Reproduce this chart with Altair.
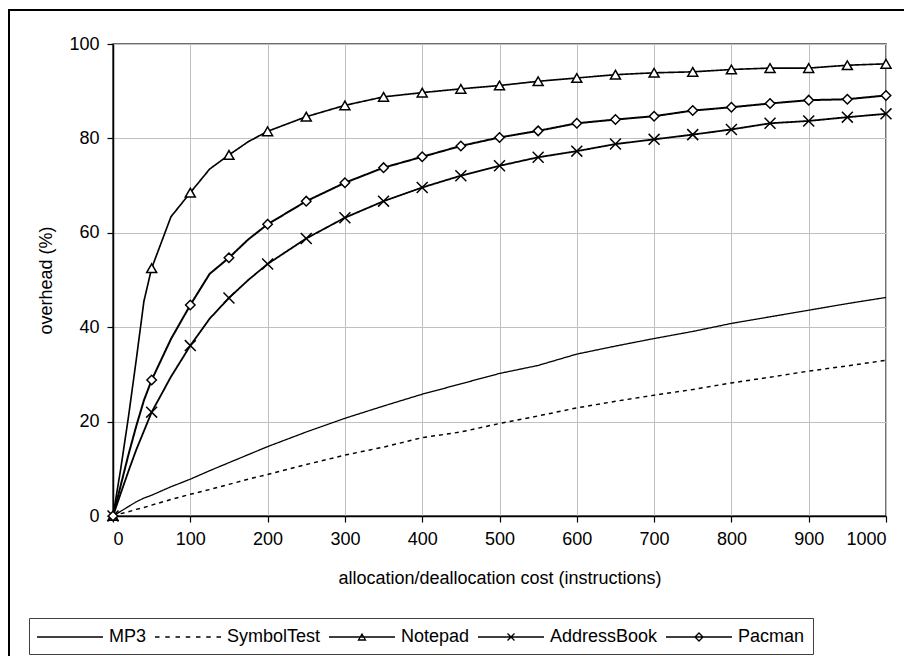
import altair as alt
import pandas as pd

# ---- data ----
cost = [0, 10, 20, 30, 40, 50, 75, 100, 125, 150, 175, 200, 250, 300, 350, 400,
        450, 500, 550, 600, 650, 700, 750, 800, 850, 900, 950, 1000]
mp3 = [0, 1.0, 2.0, 3.0, 3.8, 4.4, 6.2, 7.8, 9.6, 11.3, 13.0, 14.7, 17.8, 20.7,
       23.3, 25.8, 28.0, 30.2, 31.9, 34.3, 36.0, 37.6, 39.1, 40.8, 42.2, 43.6, 45.0, 46.3]
symboltest = [0, 0.5, 0.9, 1.4, 1.8, 2.3, 3.5, 4.6, 5.6, 6.7, 7.8, 8.8, 10.9, 12.9,
              14.6, 16.6, 17.8, 19.6, 21.2, 22.9, 24.3, 25.6, 26.8, 28.2, 29.4, 30.7, 31.8, 33.0]
notepad = [0, 10, 21, 33, 45.5, 52.5, 63.4, 68.5, 73.5, 76.5, 79.3, 81.5, 84.6, 87.0,
           88.8, 89.7, 90.5, 91.2, 92.1, 92.8, 93.5, 93.9, 94.1, 94.6, 94.9, 94.9, 95.5, 95.8]
addressbook = [0, 4.8, 9.5, 14.0, 18.0, 22.0, 29.5, 36.1, 41.8, 46.2, 50.0, 53.4, 58.8,
               63.2, 66.7, 69.6, 72.1, 74.2, 76.0, 77.3, 78.8, 79.8, 80.8, 81.9, 83.2, 83.7, 84.5, 85.2]
pacman = [0, 6.5, 13.0, 19.0, 24.5, 28.8, 37.5, 44.7, 51.3, 54.7, 58.6, 61.8, 66.7, 70.6,
          73.8, 76.1, 78.4, 80.2, 81.6, 83.2, 84.0, 84.7, 85.9, 86.6, 87.4, 88.1, 88.3, 89.1]
series_names = ["MP3", "SymbolTest", "Notepad", "AddressBook", "Pacman"]
x_ticks = [0, 100, 200, 300, 400, 500, 600, 700, 800, 900, 1000]
y_ticks = [0, 20, 40, 60, 80, 100]

rows = []
for name, vals in zip(series_names, [mp3, symboltest, notepad, addressbook, pacman]):
    for c, v in zip(cost, vals):
        rows.append({"series": name, "cost": c, "overhead": v})
df = pd.DataFrame(rows)

FONT = "Liberation Sans"
xscale = alt.Scale(domain=[0, 1000], nice=False, zero=False)
yscale = alt.Scale(domain=[0, 100], nice=False)

base = alt.Chart(df)

lines = base.mark_line(color="black").encode(
    x=alt.X("cost:Q", scale=xscale,
            title="allocation/deallocation cost (instructions)",
            axis=alt.Axis(values=x_ticks, format="d", labelPadding=8, titleY=62,
                          titleBaseline="middle")),
    y=alt.Y("overhead:Q", scale=yscale, title="overhead (%)",
            axis=alt.Axis(values=y_ticks, format="d", labelPadding=8, titleX=-67, titleY=236,
                          titleAngle=270, titleBaseline="middle")),
    detail="series:N",
    order="cost:Q",
    strokeDash=alt.StrokeDash("series:N", legend=None,
                              scale=alt.Scale(domain=series_names,
                                              range=[[1, 0], [4, 4], [1, 0], [1, 0], [1, 0]])),
    strokeWidth=alt.StrokeWidth("series:N", legend=None,
                                scale=alt.Scale(domain=series_names,
                                                range=[1.3, 2.0, 1.3, 1.3, 1.3])),
)

X_PATH = "M-1,-1L1,1M-1,1L1,-1"
marker_specs = [("Notepad", "triangle-up", 100),
                ("AddressBook", X_PATH, 120),
                ("Pacman", "diamond", 90)]
point_layers = []
for name, shp, sz in marker_specs:
    point_layers.append(
        base.transform_filter(
            (alt.datum.series == name) & ((alt.datum.cost % 50) == 0)
        ).mark_point(shape=shp, size=sz, filled=True, fill="white", stroke="black",
                     strokeWidth=1.5, opacity=1).encode(
            x=alt.X("cost:Q", scale=xscale),
            y=alt.Y("overhead:Q", scale=yscale),
        )
    )

# legend symbols: line with marker (unit = 10 px)
def dashes(n=7, start=-3.3, end=3.3):
    total = end - start
    d = 0.45
    g = (total - n * d) / (n - 1)
    parts = []
    x = start
    for _ in range(n):
        parts.append(f"M{x:.3f},0L{x + d:.3f},0")
        x += d + g
    return "".join(parts)

legend_paths = [
    "M-3.3,0L3.3,0",
    dashes(),
    "M-3.3,0L3.3,0M0,-0.3L0.35,0.3L-0.35,0.3Z",
    "M-3.3,0L3.3,0M-0.35,-0.35L0.35,0.35M-0.35,0.35L0.35,-0.35",
    "M-3.3,0L3.3,0M-0.4,0L0,-0.4L0.4,0L0,0.4Z",
]

legend_layer = alt.Chart(pd.DataFrame({"entry": series_names})).transform_filter(
    "false"
).mark_point(filled=False, color="black").encode(
    shape=alt.Shape(
        "entry:N",
        scale=alt.Scale(domain=series_names, range=legend_paths),
        legend=alt.Legend(
            title=None, orient="none", legendX=-84, legendY=574,
            direction="horizontal", columns=5,
            symbolSize=400, symbolOffset=22, labelOffset=28,
            symbolStrokeColor="black", symbolStrokeWidth=1.3,
            symbolFillColor="white", symbolOpacity=1,
            labelFont=FONT, labelFontSize=18, labelColor="black", labelLimit=0,
            strokeColor="#404040", fillColor="white", padding=8,
            columnPadding=5,
        ),
    )
)

frame = alt.Chart(pd.DataFrame({"f": [0]})).mark_rect(
    filled=False, stroke="black", strokeWidth=2
).encode(
    x=alt.value(-104), x2=alt.value(830), y=alt.value(-34), y2=alt.value(660)
)

chart = alt.layer(frame, lines, *point_layers, legend_layer).resolve_scale(
    shape="independent"
).properties(
    width=773, height=472, autosize="none",
    padding={"left": 105, "top": 36, "right": 18, "bottom": 140},
    background="white",
).configure_axis(
    labelFont=FONT, labelFontSize=18, labelColor="black",
    titleFont=FONT, titleFontSize=18, titleFontWeight="normal", titleColor="black",
    gridColor="#c0c0c0", gridWidth=1,
    domainColor="black", domainWidth=1.5,
    tickColor="black", tickWidth=1.2, tickSize=6,
).configure_view(stroke="#404040", strokeWidth=1.5)

chart.save("out.html", embed_options={"renderer": "svg", "actions": False})
